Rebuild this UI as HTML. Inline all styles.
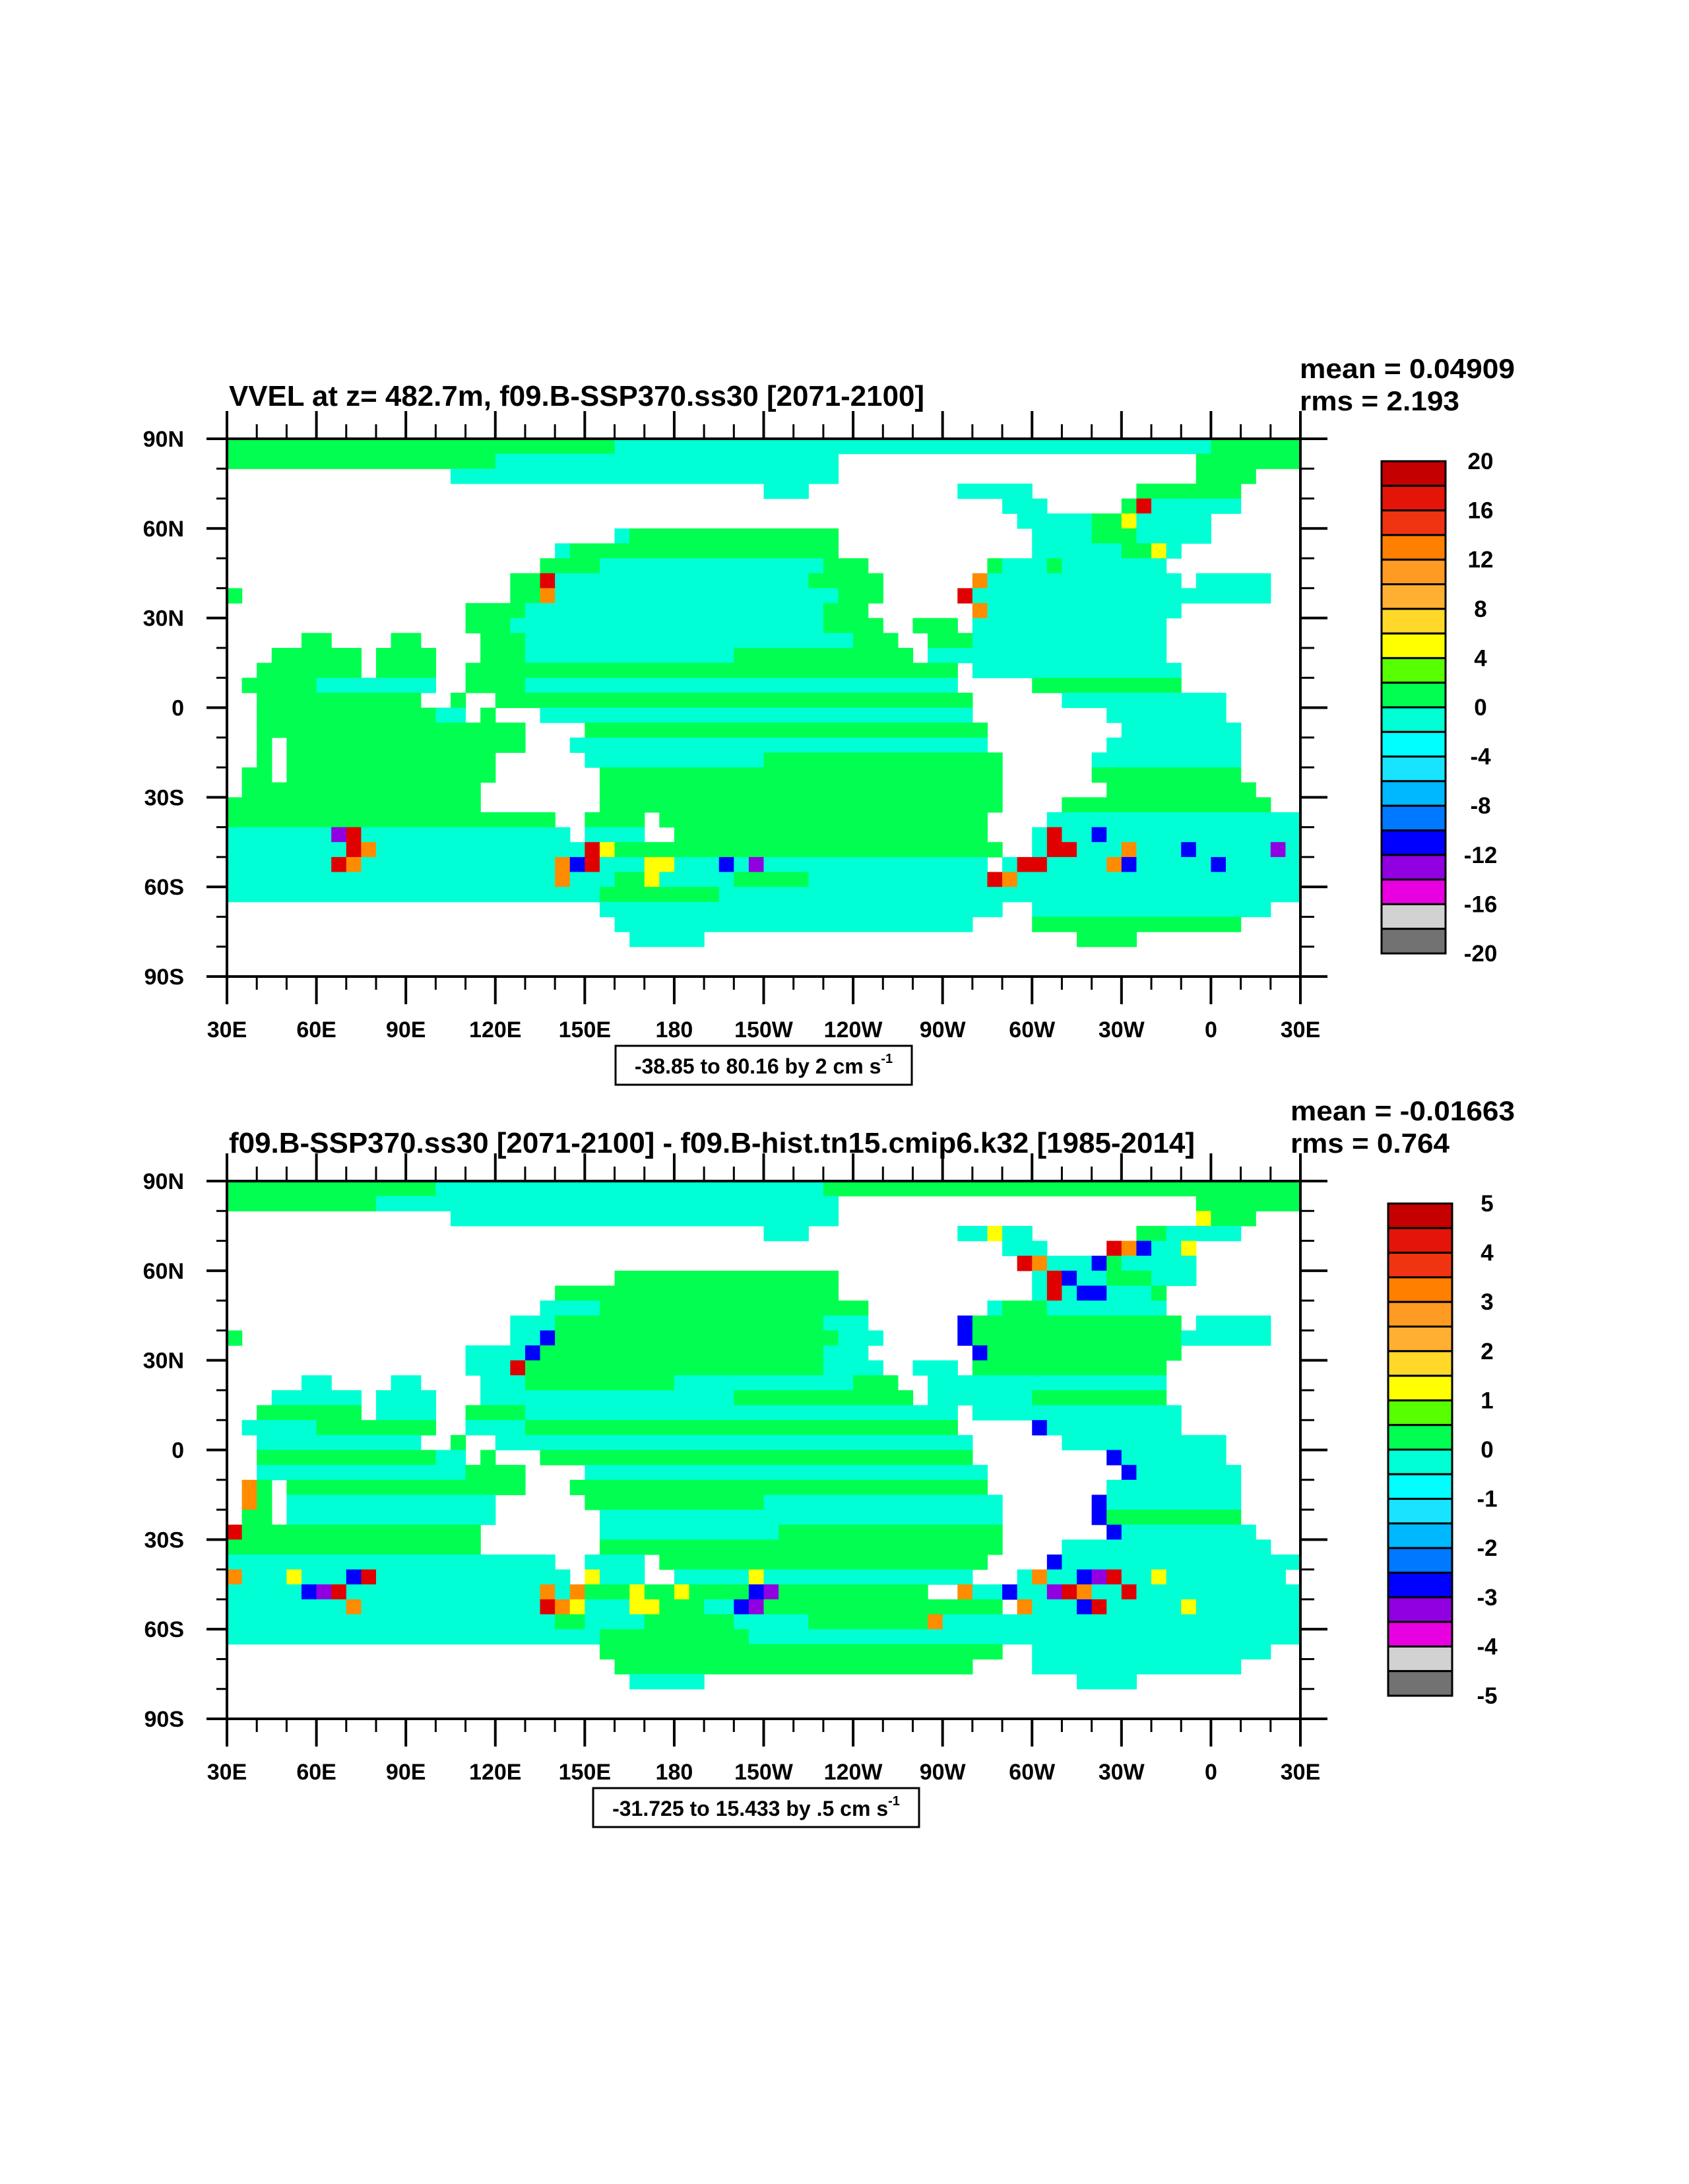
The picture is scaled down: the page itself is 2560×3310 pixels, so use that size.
<!DOCTYPE html>
<html><head><meta charset="utf-8"><style>
html,body{margin:0;padding:0;background:#fff;}
svg{display:block;font-family:"Liberation Sans",Arial,sans-serif;font-weight:bold;}
</style></head><body>
<svg id="fig" xmlns="http://www.w3.org/2000/svg" width="2560" height="3310" viewBox="0 0 2560 3310">
<rect width="2560" height="3310" fill="#fff"/>
</svg>
<script>
// ---- data ----
const lonLabels = ["30E","60E","90E","120E","150E","180","150W","120W","90W","60W","30W","0","30E"];
const latLabels = ["90N","60N","30N","0","30S","60S","90S"];
const cbLabels1 = ["20","16","12","8","4","0","-4","-8","-12","-16","-20"];
const cbLabels2 = ["5","4","3","2","1","0","-1","-2","-3","-4","-5"];
const cbColors = ["#c40000","#e41408","#f03412","#ff8000","#ff9a22","#ffb032","#ffd82a","#ffff00","#58ff00","#00ff50","#00ffd4","#00ffff","#18e4ff","#00b8ff","#0078ff","#0000ff","#9000e0","#e800e0","#d2d2d2","#727272"];
const codeColors = {g:"#00ff50",c:"#00ffd4",l:"#00ffff",y:"#ffff00",L:"#58ff00",o:"#ff8c00",r:"#e00000",B:"#0000ff",p:"#9000e0"};
const grid1 = [
"g26c40g6","g18c23.24g7",".15c26.24g4.3",".36c3.10c5.7g7.4",".52c3.5g1r1c6.4",".53c5g2y1c5.6",
".26c1g14.13c4g3c5.6",".22c1g18.13c6g2y1c1.8",".21g4c15g3.8g1c3g1c7.9",".19g2r1c17g5.6o1c13.1c5.2",
"g1.18g2o1c19g3.5r1c14c6.2",".16g4c20g3.7o1c13.8",".16g3c21g4.2g3.1c13.9",".5g2.4g2.4g3c22g3.2g3c13.9",
".3g6.1g4.3g3c14g12.1c7c9.9",".2g7.1g4.2g4g29.1c4c10.8",".1g5c8.2g4c29.5g10.8",".2g11.2g1.2g2g30.6c11.5",
".2g12c2.1g1.3c29.9c8.5",".2g14g4.4g27.9c8.4",".2g1.1g16.3c28.8c9.4",".2g1.1g14.6c12g16.6c10.4",
".1g2.1g14.7g27.6g10.4",".1g16.8g27.7g10.3","g17.8g27.4g14.2","g22.2g4.1g22.4c17",
"c7p1r1c14.1c4.2g21.3c1r1c2B1c13","c8r1o1c12c2r1y1g2g24.2c1r2c3o1c3B1c5p1c1",
"c7r1o1c13o1B1r1c3y2c3B1c1p1c15.1c1r2c4o1B1c5B1c5","c22o1c3g2y1c5g5c12r1o1c19",
"c25g8c39",".25c27.2c16.2",".26c24.4g14.4",".27c5.25g4.11",".72",".72"];
const grid2 = [
"g14c26g32","g10c31.24g7",".15c26.24y1g3.3",".36c3.10c2y1c2.7g2c5.4",".52c3.4r1o1B1c2y1.7",".53r1o1c3B1g1c5.7",
".26g15.13c1r1B1c2g3c3.7",".22g19.13c1r1c1B2c3g1.9",".21c4g18.8c1g3c5c3.9",".19c2c1g18c3.6B1g14.1c5.2",
"g1.18c2B1g19c3.5B1g14c6.2",".16c4B1g19c3.7B1g13.8",".16c3r1g20c4.2c3.1g13.9",".5c2.4c2.4c3g10c12g3.2c3c13.9",
".3c6.1c4.3c3c14g12.1c7g9.9",".2g7.1c4.2g4c29.1c4c10.8",".1c5g8.2c4g29.5B1c9.8",".2c11.2g1.2c2c30.6c11.5",
".2g12c2.1g1.3g29.9B1c7.5",".2c14g4.4c27.9B1c7.4",".1o1g1.1g16.3g28.8c9.4",".1o1g1.1c14.6g12c16.6B1c9.4",
".1g2.1c14.7c27.6B1g9.4","r1g16.8c12g15.7B1c9.3","g17.8g27.4c14.2","c22.2c4.1g22.4B1c16",
"o1c3y1c3B1r1c13.1y1c3.2c5y1c14.3c1o1c2B1p1r1c2y1c8",
"c5B1p1r1c13o1c1o1g3y1g2y1g4B1p1g10.2o1c2B1c2p1r1o1c2r1c11",
"c8o1c12r1o1y1c3y2g3c2B1p1g16.1o1c3B1r1c5y1c7","c22g2c4g6c5g8o1c10c14",
"c25g10c37",".25g27.2c16.2",".26g24.4c14.4",".27c5.25c4.11",".72",".72"];

// ---- drawing ----
const NS = "http://www.w3.org/2000/svg";
const svg = document.getElementById("fig");
function mk(tag, attrs, parent){ const e=document.createElementNS(NS,tag); for(const k in attrs) e.setAttribute(k,attrs[k]); (parent||svg).appendChild(e); return e; }
const X0=344, X1=1971, PW=X1-X0, PH=815, NC=72, NR=36;
function xLon(i){ return X0 + i*PW/(lonLabels.length-1); }
function yLat(i, top){ return top + i*PH/(latLabels.length-1); }

function panel(cfg){
  const top = cfg.top;
  const g = mk("g",{});
  
  
  const cw = PW/NC, ch = PH/NR;
  const mapG = mk("g",{}, g);
  
  
  cfg.grid.forEach((row, r) => {
    let col = 0;
    const re = /([.a-zA-Z])(\d+)/g; let m;
    while((m = re.exec(row))){
      const n = +m[2];
      if(m[1] !== "." && codeColors[m[1]]){
        const rc = mk("rect",{x:(X0+col*cw).toFixed(2), y:(top+r*ch).toFixed(2), width:(n*cw+0.6).toFixed(2), height:(ch+0.6).toFixed(2), fill:codeColors[m[1]]}, mapG);
        
        
      }
      col += n;
    }
  });
  // frame
  const fr = mk("rect",{x:X0,y:top,width:PW,height:PH,fill:"none",stroke:"#000","stroke-width":4}, g);
  
  
  // x ticks
  const nMaj = lonLabels.length;
  for(let i=0;i<(nMaj-1)*3+1;i++){
    const x = X0 + i*PW/((nMaj-1)*3);
    const major = i%3===0;
    mk("line",{x1:x,x2:x,y1:top,y2:top-(major?42:22),stroke:"#000","stroke-width":major?4:3}, g);
    mk("line",{x1:x,x2:x,y1:top+PH,y2:top+PH+(major?42:20),stroke:"#000","stroke-width":major?4:3}, g);
  }
  lonLabels.forEach((l,i)=>{
    const t = mk("text",{x:xLon(i), y:top+PH+92, "text-anchor":"middle","font-size":34}, g);
    t.textContent = l;
    
    
  });
  // y ticks
  const nLat = latLabels.length;
  for(let i=0;i<(nLat-1)*3+1;i++){
    const y = top + i*PH/((nLat-1)*3);
    const major = i%3===0;
    mk("line",{x1:X0,x2:X0-(major?31:16),y1:y,y2:y,stroke:"#000","stroke-width":major?4:3}, g);
    mk("line",{x1:X1,x2:X1+(major?41:21),y1:y,y2:y,stroke:"#000","stroke-width":major?4:3}, g);
  }
  latLabels.forEach((l,i)=>{
    const t = mk("text",{x:279, y:yLat(i,top)+12, "text-anchor":"end","font-size":34}, g);
    t.textContent = l;
    
    
  });
  // title
  const tt = mk("text",{x:347, y:cfg.titleY, "font-size":44, textLength:cfg.titleLen, lengthAdjust:"spacingAndGlyphs"}, g);
  tt.textContent = cfg.title;
  
  
  const mt = mk("text",{x:cfg.statX, y:cfg.meanY, "font-size":42, textLength:cfg.meanLen, lengthAdjust:"spacingAndGlyphs"}, g);
  mt.textContent = cfg.mean;
  
  
  const rt = mk("text",{x:cfg.statX, y:cfg.meanY+49, "font-size":42, textLength:cfg.rmsLen, lengthAdjust:"spacingAndGlyphs"}, g);
  rt.textContent = cfg.rms;
  
  
  // colorbar
  const cb = mk("g",{}, g);
  
  
  const bh = 746/cbColors.length;
  cbColors.forEach((c,i)=>{
    const b = mk("rect",{x:cfg.cbX, y:cfg.cbTop+i*bh, width:97, height:bh, fill:c, stroke:"#000","stroke-width":3}, cb);
    
    
  });
  cfg.cbLabels.forEach((l,i)=>{
    const t = mk("text",{x:cfg.cbX+150, y:cfg.cbTop+i*2*bh+12, "text-anchor":"middle","font-size":35}, cb);
    t.textContent = l;
    
    
  });
  // info box
  const ib = mk("rect",{x:cfg.box[0], y:cfg.box[1], width:cfg.box[2], height:cfg.box[3], fill:"#fff", stroke:"#000","stroke-width":3}, g);
  
  
  const it = mk("text",{x:cfg.box[0]+cfg.box[2]/2, y:cfg.box[1]+42, "text-anchor":"middle","font-size":32}, g);
  
  
  it.appendChild(document.createTextNode(cfg.info));
  const sup = mk("tspan",{"font-size":20, dy:-16}, it);
  sup.textContent = "-1";
}

panel({name:"top-panel", top:665, grid:grid1, titleY:615, titleLen:1054,
  title:"VVEL at z= 482.7m, f09.B-SSP370.ss30 [2071-2100]",
  statX:1970, meanY:573, meanLen:326, rmsLen:242, mean:"mean = 0.04909", rms:"rms = 2.193",
  cbX:2094, cbTop:699, cbLabels:cbLabels1, box:[933,1585,449,59], info:"-38.85 to 80.16 by 2 cm s"});
panel({name:"bottom-panel", top:1790, grid:grid2, titleY:1747, titleLen:1464,
  title:"f09.B-SSP370.ss30 [2071-2100] - f09.B-hist.tn15.cmip6.k32 [1985-2014]",
  statX:1956, meanY:1698, meanLen:340, rmsLen:241, mean:"mean = -0.01663", rms:"rms = 0.764",
  cbX:2104, cbTop:1824, cbLabels:cbLabels2, box:[899,2710,494,59], info:"-31.725 to 15.433 by .5 cm s"});
</script>
</body></html>
